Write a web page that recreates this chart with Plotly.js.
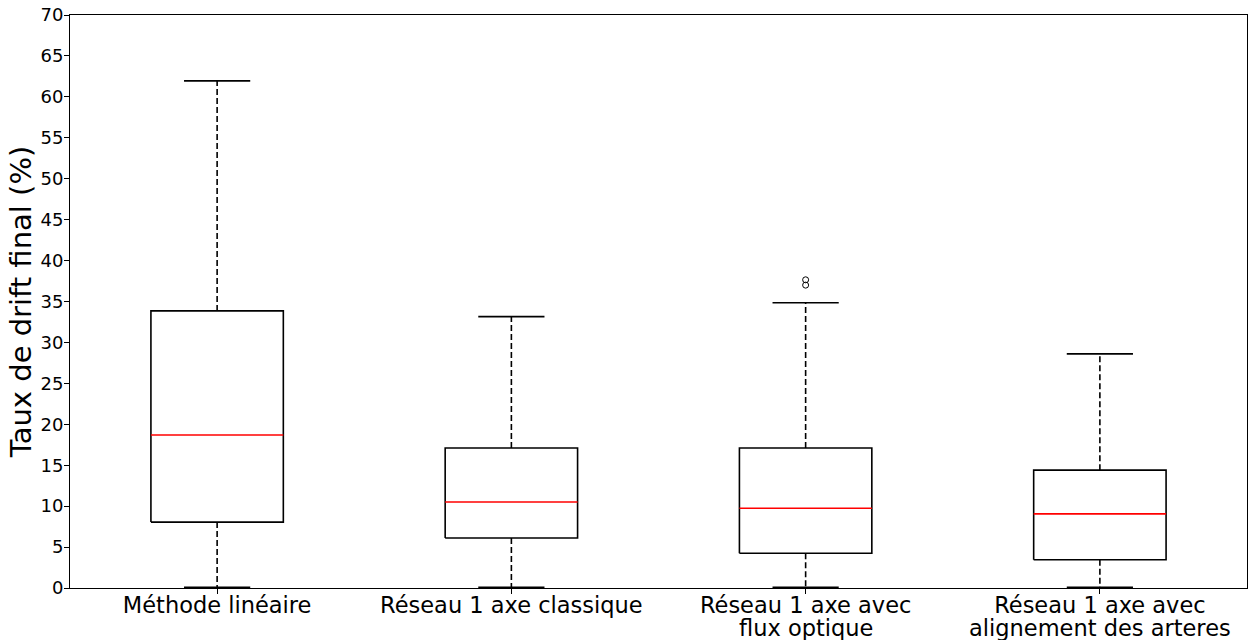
<!DOCTYPE html>
<html>
<head>
<meta charset="utf-8">
<script src="https://cdn.plot.ly/plotly-3.0.1.min.js"></script>
<style>
html,body{margin:0;padding:0;background:#fff;}
#chart{width:1255px;height:640px;}
</style>
</head>
<body>
<div id="chart"></div>
<script>
// Data
const categories = ["Méthode linéaire", "Réseau 1 axe classique", "Réseau 1 axe avec|flux optique", "Réseau 1 axe avec|alignement des arteres"];
const lowerWhisker = [0.1, 0.1, 0.1, 0.1];
const q1Values = [8.05, 6.1, 4.25, 3.45];
const medianValues = [18.7, 10.5, 9.75, 9.05];
const q3Values = [33.85, 17.1, 17.1, 14.4];
const upperWhisker = [61.95, 33.15, 34.85, 28.6];
const outlierGroup = [2, 2];
const outlierValues = [37.0, 37.65];
const yTicks = [0, 5, 10, 15, 20, 25, 30, 35, 40, 45, 50, 55, 60, 65, 70];

const boxHalf = 0.225;
const capHalf = 0.1125;

const traces = [];
categories.forEach((c, i) => {
  traces.push({
    type: 'scatter', mode: 'lines', hoverinfo: 'skip', showlegend: false,
    x: [i - boxHalf, i + boxHalf, i + boxHalf, i - boxHalf, i - boxHalf],
    y: [q1Values[i], q1Values[i], q3Values[i], q3Values[i], q1Values[i]],
    line: {color: '#000', width: 1.6}
  });
  traces.push({
    type: 'scatter', mode: 'lines', hoverinfo: 'skip', showlegend: false,
    x: [i, i, null, i, i],
    y: [q3Values[i], upperWhisker[i], null, q1Values[i], lowerWhisker[i]],
    line: {color: '#000', width: 1.6, dash: '6px,3px'}
  });
  traces.push({
    type: 'scatter', mode: 'lines', hoverinfo: 'skip', showlegend: false,
    x: [i - capHalf, i + capHalf, null, i - capHalf, i + capHalf],
    y: [upperWhisker[i], upperWhisker[i], null, lowerWhisker[i], lowerWhisker[i]],
    line: {color: '#000', width: 1.6}
  });
  traces.push({
    type: 'scatter', mode: 'lines', hoverinfo: 'skip', showlegend: false,
    x: [i - boxHalf, i + boxHalf],
    y: [medianValues[i], medianValues[i]],
    line: {color: '#ff0000', width: 1.6}
  });
});
traces.push({
  type: 'scatter', mode: 'markers', showlegend: false,
  x: outlierGroup, y: outlierValues,
  marker: {symbol: 'circle-open', size: 6, color: '#000', line: {width: 1, color: '#000'}}
});

const labelFont = {size: 22.5, family: 'DejaVu Sans', color: '#000'};
const firstLines = categories.map(c => c.split('|')[0]);
const annotations = [];
categories.forEach((c, i) => {
  const parts = c.split('|');
  if (parts.length > 1) {
    annotations.push({
      x: i, xref: 'x', y: 0, yref: 'paper', yanchor: 'middle',
      text: parts[1], showarrow: false, font: labelFont, yshift: -40
    });
  }
});

const layout = {
  width: 1255, height: 640,
  margin: {l: 70, r: 8, t: 15, b: 52},
  paper_bgcolor: '#fff', plot_bgcolor: '#fff',
  font: {family: 'DejaVu Sans', color: '#000'},
  showlegend: false,
  annotations: annotations,
  xaxis: {
    range: [-0.5, 3.5],
    tickmode: 'array', tickvals: [0, 1, 2, 3], ticktext: firstLines,
    tickfont: labelFont, ticklabelstandoff: -8,
    ticks: 'outside', ticklen: 5, tickwidth: 1, tickcolor: '#000',
    showgrid: false, zeroline: false,
    showline: true, linecolor: '#000', linewidth: 1, mirror: true
  },
  yaxis: {
    range: [0, 70],
    tickmode: 'array', tickvals: yTicks,
    tickfont: {size: 18, family: 'DejaVu Sans', color: '#000'}, ticklabelstandoff: -3,
    ticks: 'outside', ticklen: 5, tickwidth: 1, tickcolor: '#000',
    showgrid: false, zeroline: false,
    showline: true, linecolor: '#000', linewidth: 1, mirror: true,
    title: {text: 'Taux de drift final (%)', font: {size: 29, family: 'DejaVu Sans', color: '#000'}, standoff: 0}
  }
};

Plotly.newPlot('chart', traces, layout, {displayModeBar: false, staticPlot: true});
</script>
</body>
</html>
